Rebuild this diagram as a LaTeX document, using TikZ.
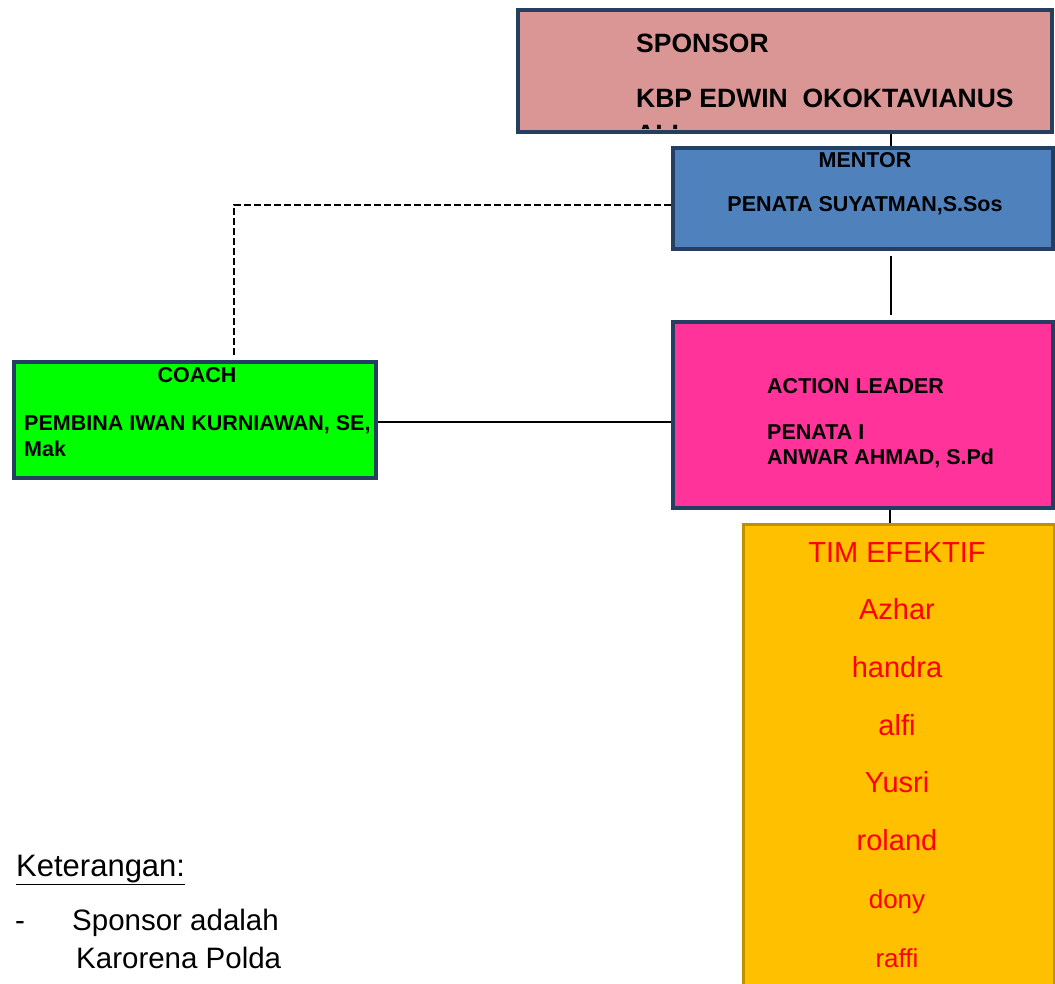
\documentclass[tikz,border=0pt]{standalone}
\usepackage{fontspec}
\setmainfont{Liberation Sans}
\usepackage{xcolor}
\usepackage{tikz}
\usetikzlibrary{positioning,calc}

\definecolor{edgeblue}{HTML}{243F60}
\definecolor{sponsorpink}{HTML}{D99694}
\definecolor{mentorblue}{HTML}{4F81BD}
\definecolor{leadermagenta}{HTML}{FF3399}
\definecolor{coachgreen}{HTML}{00FF00}
\definecolor{timgold}{HTML}{FFC000}
\definecolor{timedge}{HTML}{C09000}

\tikzset{
    box/.style={rectangle, draw=edgeblue, line width=4pt, inner sep=0pt, anchor=north west},
    conn/.style={line width=2pt, black},
    dashline/.style={line width=2.2pt, black, dash pattern=on 7pt off 3pt},
    lbl/.style={anchor=base west, inner sep=0pt, font=\bfseries\fontsize{21.5}{25}\selectfont},
    lblc/.style={lbl, anchor=base},
    sponlbl/.style={lbl, font=\bfseries\fontsize{26.5}{31}\selectfont},
    member/.style={anchor=base, inner sep=0pt, text=red, font=\fontsize{29}{34}\selectfont},
    membersm/.style={member, font=\fontsize{26}{31}\selectfont},
    note/.style={anchor=base west, inner sep=0pt, font=\fontsize{29.5}{34}\selectfont}
}

\begin{document}
\begin{tikzpicture}[x=1pt, y=-1pt]
    \clip (0,0) rectangle (1055,984);
    \coordinate (spine) at (891,0);

    % Sponsor
    \node[box, fill=sponsorpink, minimum width=534pt, minimum height=122pt] (spon) at (516,8) {};
    \node[sponlbl] (sponT) at (636,53) {SPONSOR};
    \node[sponlbl] (sponN) at (636,108) {KBP EDWIN\ \ OKOKTAVIANUS};
    \begin{scope}
        \clip (518,10) rectangle (1048,129);
        \node[sponlbl] (sponA) at (636,144) {ALI};
    \end{scope}

    % Mentor
    \node[box, fill=mentorblue, minimum width=380pt, minimum height=101pt] (ment) at (671,146) {};
    \node[lblc] (mentT) at (865,168) {MENTOR};
    \node[lblc] (mentN) at (865,212) {PENATA SUYATMAN,S.Sos};

    % Action leader
    \node[box, fill=leadermagenta, minimum width=380pt, minimum height=186pt] (act) at (671,320) {};
    \node[lbl] (actT) at (767,393) {ACTION LEADER};
    \node[lbl] (actN) at (767,439) {PENATA I};
    \node[lbl] (actM) at (767,464) {ANWAR AHMAD, S.Pd};

    % Coach
    \node[box, fill=coachgreen, minimum width=362pt, minimum height=116pt] (coach) at (12,360) {};
    \node[lblc] (coachT) at (197,382) {COACH};
    \node[lbl] (coachN) at (24,430) {PEMBINA IWAN KURNIAWAN, SE,};
    \node[lbl] (coachM) at (24,456) {Mak};

    % Tim efektif
    \node[box, draw=timedge, line width=2.5pt, fill=timgold, minimum width=311pt, minimum height=480pt] (tim) at (742,523) {};
    \node[member] (timT) at (897,562) {TIM EFEKTIF};
    \node[member] (m1) at (897,619) {Azhar};
    \node[member] (m2) at (897,677) {handra};
    \node[member] (m3) at (897,735) {alfi};
    \node[member] (m4) at (897,792) {Yusri};
    \node[member] (m5) at (897,850) {roland};
    \node[membersm] (m6) at (897,908) {dony};
    \node[membersm] (m7) at (897,967) {raffi};

    % connectors
    \draw[conn] (spine |- spon.south) -- (spine |- ment.north);
    \draw[conn, shorten <=5pt, shorten >=5pt] (spine |- ment.south) -- (spine |- act.north);
    \draw[conn] ([xshift=-1pt]spine |- act.south) -- ([xshift=-1pt]spine |- tim.north);
    \draw[conn] ([yshift=-2pt]coach.east) -- ([yshift=-2pt]coach.east -| act.west);
    \draw[dashline, shorten >=5pt] ([yshift=-6.5pt]ment.west) -| ([xshift=39pt]coach.north);

    % Keterangan
    \node[note, font=\fontsize{31}{36}\selectfont] (ketT) at (16,876) {\underline{Keterangan:}};
    \node[note] (ketD) at (15,930) {-};
    \node[note] (ketA) at (72,930) {Sponsor adalah};
    \node[note] (ketB) at (76,968) {Karorena Polda};
\end{tikzpicture}
\end{document}
